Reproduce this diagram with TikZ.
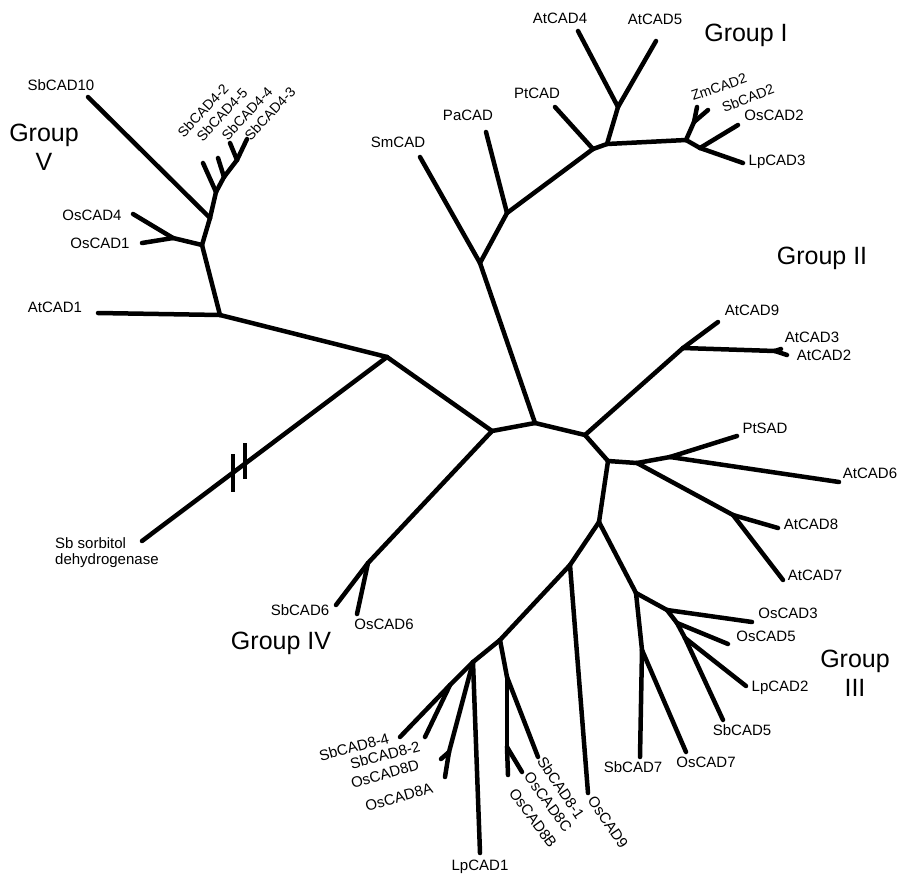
\documentclass[tikz,border=0pt]{standalone}
\usepackage{fontspec}
\setmainfont{Liberation Sans}

\begin{document}
\begin{tikzpicture}[x=1pt,y=-1pt,
    branch/.style={line width=4.5pt,line cap=round,line join=round},
    leaf/.style={font=\fontsize{15}{17}\selectfont,inner sep=0pt},
    tight/.style={font=\fontsize{14}{16}\selectfont,inner sep=0pt},
    group/.style={font=\fontsize{25}{29}\selectfont,inner sep=0pt,align=center}]
\useasboundingbox (0,0) rectangle (899,878);
% centre of the tree
\coordinate (c1) at (492,431); \coordinate (c2) at (535,423);
\coordinate (c3) at (585,435); \coordinate (c4) at (608,461);
\coordinate (c5) at (599,522);
% group V and sorbitol dehydrogenase
\coordinate (n5a) at (387,357); \coordinate (n5b) at (220,315);
\coordinate (n5c) at (202,245); \coordinate (n5o) at (173,238);
\coordinate (n5d) at (210,218); \coordinate (n5e) at (216,192);
\coordinate (n5f) at (224,177); \coordinate (n5g) at (237,160);
\coordinate (lAt1) at (98,313);  \coordinate (lOs4) at (133,214);
\coordinate (lOs1) at (142,243); \coordinate (lSb10) at (88,97);
\coordinate (lSb42) at (203,163); \coordinate (lSb45) at (218,158);
\coordinate (lSb44) at (230,143); \coordinate (lSb43) at (247,139);
\coordinate (lSorb) at (142,541);
% group IV
\coordinate (n4) at (368,563);
\coordinate (lSb6) at (336,605); \coordinate (lOs6) at (357,614);
% group I
\coordinate (nSm) at (480,263); \coordinate (nPa) at (507,213);
\coordinate (nPt) at (593,149); \coordinate (nG1) at (607,144);
\coordinate (nAt45) at (618,107); \coordinate (nMon) at (686,140);
\coordinate (nZm) at (694,122); \coordinate (nOs2) at (700,148);
\coordinate (lSm) at (420,157); \coordinate (lPa) at (486,132);
\coordinate (lPt) at (555,107); \coordinate (lAt4) at (578,31);
\coordinate (lAt5) at (656,41); \coordinate (lZm2) at (697,107);
\coordinate (lSb2) at (708,110); \coordinate (lOs2) at (738,125);
\coordinate (lLp3) at (743,163);
% group II
\coordinate (n2) at (683,348); \coordinate (n23) at (775,351);
\coordinate (lAt9) at (718,322); \coordinate (lAt3) at (781,349);
\coordinate (lAt2) at (787,355);
\coordinate (n6) at (637,463); \coordinate (n6a) at (670,457);
\coordinate (n6b) at (733,515);
\coordinate (lPtSAD) at (737,436); \coordinate (lAt6) at (839,482);
\coordinate (lAt8) at (778,528); \coordinate (lAt7) at (783,580);
% group III
\coordinate (n3) at (636,593); \coordinate (n3a) at (642,650);
\coordinate (n3b) at (667,610); \coordinate (n3c) at (677,623);
\coordinate (n3d) at (685,638);
\coordinate (lSb7) at (640,757); \coordinate (lOs7) at (686,752);
\coordinate (lOs3) at (752,622); \coordinate (lOs5) at (728,644);
\coordinate (lLp2) at (746,686); \coordinate (lSb5) at (723,720);
% CAD8 clade
\coordinate (n9) at (570,565); \coordinate (n8b) at (500,640);
\coordinate (n8c) at (507,677); \coordinate (n8d) at (507,747);
\coordinate (nLp) at (473,662); \coordinate (n8ad) at (449,752);
\coordinate (n84) at (450,685);
\coordinate (lOs9) at (588,793); \coordinate (lSb81) at (538,757);
\coordinate (lOs8C) at (522,772); \coordinate (lOs8B) at (508,775);
\coordinate (lLp1) at (480,853); \coordinate (lOs8D) at (441,759);
\coordinate (lOs8A) at (445,777); \coordinate (lSb84) at (400,737);
\coordinate (lSb82) at (425,737);

\foreach \a/\b in {c1/c2,c2/c3,c3/c4,c4/c5,c1/n5a,c1/n4,c2/nSm,c3/n2,c4/n6,c5/n3,c5/n9,
    n5a/n5b,n5a/lSorb,n5b/lAt1,n5b/n5c,n5c/n5o,n5o/lOs4,n5o/lOs1,n5c/n5d,n5d/lSb10,
    n5d/n5e,n5e/lSb42,n5e/n5f,n5f/lSb45,n5f/n5g,n5g/lSb44,n5g/lSb43,
    n4/lSb6,n4/lOs6,
    nSm/lSm,nSm/nPa,nPa/lPa,nPa/nPt,nPt/lPt,nPt/nG1,nG1/nAt45,nAt45/lAt4,nAt45/lAt5,
    nG1/nMon,nMon/nZm,nZm/lZm2,nZm/lSb2,nMon/nOs2,nOs2/lOs2,nOs2/lLp3,
    n2/lAt9,n2/n23,n23/lAt3,n23/lAt2,
    n6/n6a,n6a/lPtSAD,n6a/lAt6,n6/n6b,n6b/lAt8,n6b/lAt7,
    n3/n3a,n3a/lSb7,n3a/lOs7,n3/n3b,n3b/lOs3,n3b/n3c,n3c/lOs5,n3c/n3d,n3d/lLp2,n3d/lSb5,
    n9/lOs9,n9/n8b,n8b/n8c,n8c/lSb81,n8c/n8d,n8d/lOs8C,n8d/lOs8B,n8b/nLp,nLp/lLp1,
    nLp/n8ad,n8ad/lOs8D,n8ad/lOs8A,nLp/n84,n84/lSb84,n84/lSb82}
  \draw[branch] (\a) -- (\b);
% break marks on the long branch
\draw[line width=3.5pt] (233,454) -- (233,492);
\draw[line width=3.5pt] (245,443) -- (245,479);

% labels
\node[leaf] (tAt1) at (55,307) {AtCAD1};
\node[leaf] (tOs4) at (92,215) {OsCAD4};
\node[leaf] (tOs1) at (100,243) {OsCAD1};
\node[leaf] (tSb10) at (61,85) {SbCAD10};
\node[tight,rotate=47,anchor=west] (tSb42) at (180,135) {SbCAD4-2};
\node[tight,rotate=47,anchor=west] (tSb45) at (199,139) {SbCAD4-5};
\node[tight,rotate=47,anchor=west] (tSb44) at (224,138) {SbCAD4-4};
\node[tight,rotate=47,anchor=west] (tSb43) at (247,138) {SbCAD4-3};
\node[leaf,align=left,anchor=north west] (tSorb) at (55,537) {Sb sorbitol\\[-1pt]dehydrogenase};
\node[leaf] (tSb6) at (300,610) {SbCAD6};
\node[leaf] (tOs6) at (384,624) {OsCAD6};
\node[leaf] (tSm) at (398,142) {SmCAD};
\node[leaf] (tPa) at (468,115) {PaCAD};
\node[leaf] (tPt) at (537,93) {PtCAD};
\node[leaf] (tAt4) at (560,18) {AtCAD4};
\node[leaf] (tAt5) at (655,19) {AtCAD5};
\node[tight,rotate=19] (tZm2) at (719,87) {ZmCAD2};
\node[tight,rotate=21] (tSb2) at (748,98) {SbCAD2};
\node[leaf] (tOs2) at (774,115) {OsCAD2};
\node[leaf] (tLp3) at (777,162) {LpCAD3};
\node[leaf] (tAt9) at (752,310) {AtCAD9};
\node[leaf] (tAt3) at (812,337) {AtCAD3};
\node[leaf] (tAt2) at (824,355) {AtCAD2};
\node[leaf] (tPtSAD) at (765,428) {PtSAD};
\node[leaf] (tAt6) at (870,473) {AtCAD6};
\node[leaf] (tAt8) at (811,524) {AtCAD8};
\node[leaf] (tAt7) at (815,575) {AtCAD7};
\node[leaf] (tOs3) at (788,613) {OsCAD3};
\node[leaf] (tOs5) at (766,636) {OsCAD5};
\node[leaf] (tLp2) at (780,688) {LpCAD2};
\node[leaf] (tSb5) at (742,730) {SbCAD5};
\node[leaf] (tSb7) at (633,767) {SbCAD7};
\node[leaf] (tOs7) at (706,762) {OsCAD7};
\node[leaf,rotate=-56] (tOs9) at (608,822) {OsCAD9};
\node[leaf,rotate=-56] (tSb81) at (561,788) {SbCAD8-1};
\node[leaf,rotate=-54] (tOs8C) at (548,802) {OsCAD8C};
\node[leaf,rotate=-54] (tOs8B) at (533,818) {OsCAD8B};
\node[leaf] (tLp1) at (480,867) {LpCAD1};
\node[leaf,rotate=15] (tSb84) at (354,747) {SbCAD8-4};
\node[leaf,rotate=15] (tSb82) at (385,755) {SbCAD8-2};
\node[leaf,rotate=16] (tOs8D) at (385,774) {OsCAD8D};
\node[leaf,rotate=16] (tOs8A) at (399,797) {OsCAD8A};
% group names
\node[group] (gI) at (746,35) {Group I};
\node[group] (gII) at (822,258) {Group II};
\node[group] (gIII) at (855,673) {Group\\III};
\node[group] (gIV) at (281,643) {Group IV};
\node[group] (gV) at (44,147) {Group\\V};
\end{tikzpicture}
\end{document}
